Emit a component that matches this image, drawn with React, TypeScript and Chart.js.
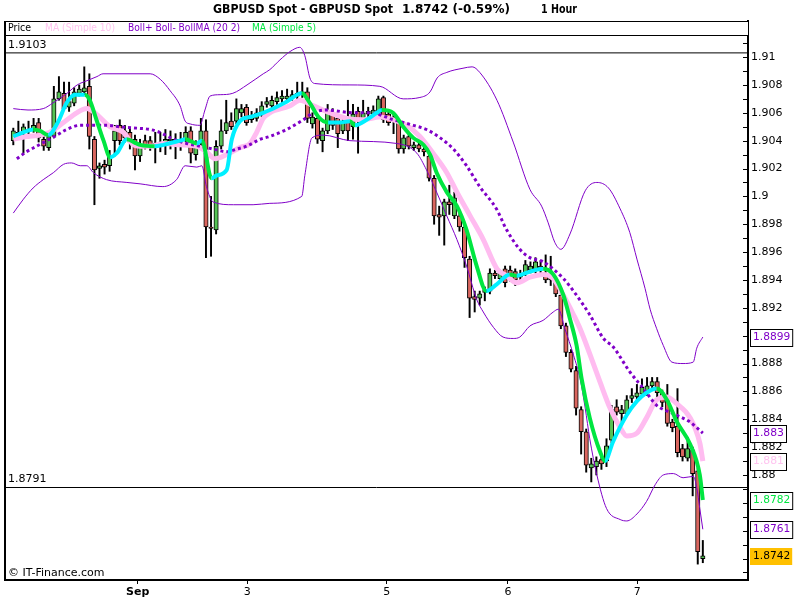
import React, { useEffect, useRef } from 'react';
import { Chart, registerables } from 'chart.js';
Chart.register(...registerables);

// ---------- data ----------
const opens = [1.9040,1.9046,1.9046,1.9048,1.9048,1.9053,1.9041,1.9035,1.9043,1.9070,
1.9074,1.9064,1.9067,1.9074,1.9075,1.9079,1.9041,1.9020,1.9023,1.9022,
1.9040,1.9051,1.9047,1.9046,1.9041,1.9029,1.9040,1.9040,1.9036,1.9038,
1.9039,1.9040,1.9041,1.9039,1.9041,1.9047,1.9030,1.9040,1.9047,1.8978,
1.8976,1.9036,1.9047,1.9054,1.9054,1.9060,1.9064,1.9055,1.9056,1.9059,
1.9066,1.9065,1.9068,1.9070,1.9070,1.9071,1.9072,1.9074,1.9075,1.9052,
1.9056,1.9040,1.9047,1.9060,1.9056,1.9047,1.9055,1.9050,1.9061,1.9056,
1.9059,1.9059,1.9060,1.9071,1.9059,1.9057,1.9053,1.9034,1.9043,1.9035,
1.9037,1.9034,1.9029,1.9013,1.8987,1.8986,1.8996,1.8986,1.8986,1.8978,
1.8955,1.8928,1.8927,1.8931,1.8932,1.8945,1.8941,1.8948,1.8947,1.8946,
1.8942,1.8945,1.8947,1.8947,1.8950,1.8943,1.8942,1.8940,1.8929,1.8907,
1.8888,1.8875,1.8847,1.8831,1.8805,1.8806,1.8811,1.8810,1.8825,1.8849,
1.8844,1.8844,1.8855,1.8856,1.8858,1.8860,1.8864,1.8867,1.8859,1.8855,
1.8838,1.8835,1.8819,1.8812,1.8818,1.8803,1.8740];

const highs = [1.9049,1.9054,1.9052,1.9054,1.9056,1.9056,1.9044,1.9046,1.9079,1.9086,
1.9082,1.9082,1.9078,1.9080,1.9093,1.9088,1.9043,1.9024,1.9026,1.9033,
1.9051,1.9055,1.9051,1.9049,1.9044,1.9041,1.9044,1.9043,1.9046,1.9046,
1.9048,1.9047,1.9045,1.9046,1.9050,1.9050,1.9040,1.9056,1.9055,1.9000,
1.9040,1.9055,1.9069,1.9060,1.9070,1.9066,1.9066,1.9061,1.9063,1.9068,
1.9071,1.9072,1.9075,1.9076,1.9077,1.9076,1.9082,1.9082,1.9078,1.9060,
1.9058,1.9049,1.9066,1.9063,1.9058,1.9057,1.9069,1.9066,1.9064,1.9069,
1.9064,1.9065,1.9072,1.9072,1.9061,1.9059,1.9055,1.9044,1.9045,1.9039,
1.9039,1.9036,1.9031,1.9015,1.8993,1.8998,1.9008,1.9003,1.8988,1.8980,
1.8957,1.8932,1.8932,1.8935,1.8948,1.8947,1.8947,1.8950,1.8950,1.8948,
1.8947,1.8954,1.8953,1.8956,1.8954,1.8958,1.8957,1.8942,1.8931,1.8909,
1.8890,1.8878,1.8849,1.8833,1.8812,1.8813,1.8815,1.8826,1.8850,1.8854,
1.8850,1.8857,1.8862,1.8865,1.8869,1.8870,1.8870,1.8870,1.8861,1.8865,
1.8840,1.8862,1.8822,1.8827,1.8820,1.8805,1.8753];

const lows = [1.9037,1.9041,1.9031,1.9042,1.9046,1.9039,1.9033,1.9033,1.9042,1.9069,
1.9062,1.9061,1.9065,1.9072,1.9073,1.9034,1.8994,1.9013,1.9016,1.9018,
1.9029,1.9037,1.9039,1.9034,1.9019,1.9025,1.9034,1.9033,1.9024,1.9032,
1.9030,1.9034,1.9027,1.9033,1.9039,1.9024,1.9026,1.9036,1.8956,1.8957,
1.8973,1.9034,1.9045,1.9048,1.9052,1.9057,1.9051,1.9053,1.9054,1.9057,
1.9064,1.9063,1.9066,1.9067,1.9068,1.9069,1.9070,1.9071,1.9053,1.9049,
1.9038,1.9032,1.9045,1.9048,1.9035,1.9045,1.9040,1.9041,1.9031,1.9054,
1.9057,1.9057,1.9058,1.9053,1.9051,1.9045,1.9031,1.9031,1.9034,1.9033,
1.9032,1.9029,1.9011,1.8980,1.8972,1.8965,1.8987,1.8984,1.8975,1.8949,
1.8913,1.8917,1.8922,1.8925,1.8930,1.8941,1.8939,1.8935,1.8939,1.8936,
1.8940,1.8943,1.8945,1.8945,1.8944,1.8938,1.8936,1.8928,1.8905,1.8885,
1.8874,1.8843,1.8815,1.8802,1.8795,1.8800,1.8804,1.8806,1.8823,1.8843,
1.8838,1.8842,1.8852,1.8853,1.8856,1.8857,1.8862,1.8856,1.8849,1.8835,
1.8831,1.8813,1.8810,1.8810,1.8785,1.8736,1.8737];

const closes = [1.9047,1.9043,1.9050,1.9047,1.9051,1.9042,1.9036,1.9043,1.9070,1.9075,
1.9063,1.9068,1.9075,1.9077,1.9078,1.9043,1.9019,1.9022,1.9021,1.9029,
1.9047,1.9040,1.9042,1.9039,1.9029,1.9036,1.9036,1.9036,1.9038,1.9039,
1.9041,1.9041,1.9040,1.9041,1.9046,1.9031,1.9036,1.9047,1.8978,1.8977,
1.9036,1.9047,1.9053,1.9050,1.9063,1.9063,1.9053,1.9058,1.9060,1.9065,
1.9068,1.9069,1.9071,1.9072,1.9072,1.9073,1.9074,1.9075,1.9056,1.9057,
1.9041,1.9047,1.9060,1.9051,1.9045,1.9054,1.9047,1.9059,1.9055,1.9060,
1.9061,1.9062,1.9070,1.9055,1.9053,1.9054,1.9034,1.9042,1.9036,1.9037,
1.9034,1.9032,1.9013,1.8986,1.8985,1.8996,1.8994,1.8999,1.8978,1.8956,
1.8927,1.8926,1.8930,1.8933,1.8945,1.8943,1.8945,1.8938,1.8941,1.8940,
1.8944,1.8951,1.8950,1.8953,1.8947,1.8940,1.8940,1.8930,1.8907,1.8888,
1.8876,1.8848,1.8831,1.8807,1.8808,1.8810,1.8808,1.8821,1.8847,1.8845,
1.8847,1.8854,1.8857,1.8859,1.8863,1.8864,1.8867,1.8859,1.8852,1.8837,
1.8834,1.8816,1.8813,1.8819,1.8801,1.8745,1.8742];

// indicator lines, read as [candle index, value]
const upperBand: [number, number][] = [[0,1.9063],[2.9,1.9062],[5.9,1.9063],[7.8,1.9067],[10.6,1.9074],[12.6,1.9080],[14.5,1.9083],[16.5,1.9086],[17.7,1.9088],[27,1.9088],[29,1.9084],[30.9,1.9076],[32.9,1.9065],[33.9,1.9054],[34.9,1.9052],[36.8,1.9051],[37.8,1.9062],[38.8,1.9072],[40.8,1.9073],[43.3,1.9074],[46.1,1.9080],[49.3,1.9088],[50.6,1.9091],[52.6,1.9098],[54.6,1.9104],[56.5,1.9107],[57.5,1.9101],[58.5,1.9085],[59.5,1.9081],[66.4,1.9080],[72.3,1.9079],[76.9,1.9070],[80.2,1.9071],[82.2,1.9075],[83.6,1.9085],[85.5,1.9089],[88.7,1.9092],[90.5,1.9093],[92,1.9089],[95.4,1.9069],[98.6,1.9039],[101.9,1.9005],[104.2,1.8993],[105.5,1.8981],[106.8,1.8967],[108,1.8962],[109.8,1.8973],[112.8,1.9004],[115.1,1.9010],[117.4,1.9006],[119.7,1.8991],[121.6,1.8974],[123,1.8955],[124.6,1.8934],[125.6,1.8919],[126.9,1.8905],[128.2,1.8893],[129.9,1.8881],[132.1,1.8880],[134.1,1.8881],[134.8,1.8891],[136,1.8899]];

const lowerBand: [number, number][] = [[0,1.8988],[2,1.8998],[3.9,1.9006],[5.9,1.9012],[7.9,1.9017],[9.9,1.9023],[11.5,1.9024],[13.2,1.9022],[14.5,1.9022],[15.8,1.9017],[18.4,1.9012],[22.4,1.9010],[25,1.9009],[29.5,1.9007],[32.2,1.9012],[33.9,1.9022],[36.2,1.9021],[37.2,1.9022],[38.1,1.9007],[39.4,1.8996],[43.4,1.8994],[47.3,1.8994],[50.6,1.8995],[56.9,1.9000],[57.5,1.9015],[58.9,1.9042],[61.1,1.9044],[66.4,1.9040],[75.6,1.9038],[79.6,1.9031],[81.5,1.9019],[83.5,1.9003],[85.5,1.8986],[87.5,1.8969],[89.4,1.8950],[91.4,1.8926],[92.7,1.8917],[94.7,1.8906],[96.6,1.8899],[98.6,1.8898],[99.9,1.8899],[101.9,1.8907],[104.5,1.8911],[106.5,1.8917],[107.5,1.8919],[108.8,1.8905],[110.5,1.8886],[111.8,1.8869],[112.8,1.8848],[113.7,1.8826],[115.1,1.8800],[117,1.8776],[119.7,1.8768],[121,1.8767],[123,1.8772],[124.9,1.8781],[126.6,1.8793],[128.2,1.8800],[130.2,1.8801],[132.1,1.8798],[134.1,1.8799],[134.8,1.8791],[135.4,1.8776],[136,1.8761]];

const bollMA: [number, number][] = [[0.7,1.9027],[2.6,1.9032],[4.6,1.9036],[6.6,1.9040],[8.6,1.9044],[10.5,1.9048],[13.2,1.9051],[15.8,1.9051],[18.4,1.9051],[21,1.9050],[24.3,1.9049],[27,1.9048],[28.9,1.9046],[31.6,1.9041],[34.2,1.9038],[36.8,1.9036],[39.4,1.9034],[42.1,1.9032],[44.1,1.9034],[46,1.9036],[48.7,1.9041],[50.6,1.9043],[53.9,1.9048],[57.2,1.9055],[59.2,1.9060],[61.8,1.9062],[67.1,1.9060],[70.4,1.9060],[75,1.9055],[78.9,1.9051],[81.5,1.9048],[84.2,1.9042],[86.8,1.9034],[89.4,1.9022],[92,1.9007],[95.3,1.8991],[97.3,1.8976],[99.9,1.8962],[101.9,1.8956],[104.5,1.8953],[108.5,1.8941],[111.1,1.8929],[113.7,1.8915],[116.4,1.8898],[118.3,1.8892],[121.6,1.8874],[124.3,1.8862],[126.9,1.8850],[130.2,1.8844],[133.5,1.8838],[136,1.8830]];

const ma10: [number, number][] = [[0,1.9041],[2.6,1.9043],[5.3,1.9044],[7.2,1.9046],[9.9,1.9053],[12.5,1.9060],[14.5,1.9063],[16.4,1.9059],[19.1,1.9050],[21.7,1.9046],[23.7,1.9037],[25,1.9036],[27,1.9036],[29.6,1.9038],[32.9,1.9037],[36.2,1.9036],[38.1,1.9032],[39.8,1.9027],[42.1,1.9030],[44.7,1.9035],[46.7,1.9038],[48,1.9046],[49.3,1.9056],[50.6,1.9060],[54.6,1.9065],[56.5,1.9069],[59.2,1.9065],[62.5,1.9060],[65.8,1.9056],[69,1.9055],[72.3,1.9057],[74.9,1.9055],[77.6,1.9051],[80.2,1.9043],[82.8,1.9031],[85.5,1.9017],[87.5,1.9003],[90.1,1.8986],[92.7,1.8969],[95.4,1.8948],[97.3,1.8943],[99.3,1.8938],[101.9,1.8942],[104.5,1.8944],[106.5,1.8941],[108.5,1.8929],[110.5,1.8915],[111.8,1.8905],[113.7,1.8887],[115.7,1.8867],[117.7,1.8848],[119.7,1.8834],[121,1.8828],[123,1.8830],[124.9,1.8841],[126.9,1.8854],[128.9,1.8856],[130.9,1.8851],[133.5,1.8841],[135.4,1.8823],[136,1.8810]];

const ma5: [number, number][] = [[0,1.9043],[2,1.9046],[3.9,1.9048],[5.3,1.9047],[6.9,1.9044],[8.9,1.9054],[10.5,1.9067],[12.2,1.9073],[14.1,1.9073],[15.1,1.9069],[16.4,1.9055],[17.8,1.9040],[19.1,1.9028],[20.4,1.9031],[22.4,1.9041],[24.3,1.9038],[25,1.9037],[27.9,1.9036],[29.6,1.9037],[32.9,1.9040],[33.9,1.9041],[36.2,1.9038],[37.2,1.9040],[39.1,1.9013],[40.1,1.9015],[42.1,1.9019],[43.1,1.9041],[44.7,1.9054],[46.7,1.9057],[49.3,1.9060],[50.6,1.9062],[53.9,1.9068],[56.9,1.9074],[58.5,1.9067],[60.2,1.9057],[62.1,1.9053],[64.4,1.9053],[66.4,1.9054],[67.4,1.9051],[69.7,1.9055],[71.7,1.9060],[72.7,1.9062],[74.9,1.9060],[76.9,1.9050],[78.9,1.9042],[80.9,1.9037],[82.2,1.9030],[83.5,1.9017],[85.5,1.9003],[87.5,1.8993],[89.4,1.8976],[91.4,1.8950],[93.3,1.8932],[95.4,1.8937],[97.9,1.8944],[99.3,1.8943],[101.9,1.8946],[104.5,1.8948],[106.5,1.8944],[108.5,1.8929],[109.8,1.8912],[111.1,1.8893],[112.1,1.8869],[113.7,1.8841],[115.7,1.8817],[116.7,1.8810],[118.3,1.8824],[121,1.8843],[123,1.8853],[124.9,1.8859],[126.9,1.8862],[128.9,1.8854],[130.9,1.8838],[133.5,1.8822],[135.4,1.8800],[136,1.8782]];

const levelValues = [1.9103, 1.8791];
const xTickPos = [24.54, 46.15, 73.65, 97.57, 123.08];
const xTickLabels = ['Sep', '3', '5', '6', '7'];
const titleParts = ['GBPUSD Spot - GBPUSD Spot', '1.8742 (-0.59%)', '1 Hour'];
const legendItems = ['Price', 'MA (Simple 10)', 'Boll+ Boll- BollMA (20 2)', 'MA (Simple 5)'];
const copyright = '\u00A9 IT-Finance.com';

// ---------- styles ----------
const X_MIN = -1.637, X_MAX = 144.91;
const Y_MIN = 1.87246, Y_MAX = 1.91259;
const FONT = '"DejaVu Sans", Verdana, sans-serif';
const PURPLE = '#8000C8';
const PINK = '#FFBCF0';
const PINK_TXT = '#FFC4F0';
const MA5_DOWN = '#00E640';
const MA5_UP = '#00F0FF';
const UP_BODY = '#55C255';
const DOWN_BODY = '#D9665F';
const ORANGE = '#FFC000';

const overlayPlugin = {
  id: 'overlay',
  afterDraw(chart: any) {
    const { ctx, chartArea: ca, scales } = chart;
    const ys = scales.y;
    const w = ca.right - ca.left;
    ctx.save();
    // header row
    ctx.fillStyle = '#fff';
    ctx.fillRect(ca.left, ca.top, w, 14);
    ctx.fillStyle = '#000';
    ctx.fillRect(ca.left, ca.top, w, 1);
    ctx.fillRect(ca.left, ca.top + 14, w, 1);
    ctx.fillRect(ca.left - 1, ca.top, 2, ca.bottom - ca.top);

    // title
    ctx.textBaseline = 'middle';
    ctx.textAlign = 'left';
    ctx.font = 'bold 12px ' + FONT;
    ctx.fillStyle = '#000';
    const tx = [213, 402, 541];
    const tw = [180, 117, 36];
    titleParts.forEach((t, i) => ctx.fillText(t, tx[i], 10, tw[i]));

    // legend row
    ctx.font = '11px ' + FONT;
    const lx = [8, 45, 128, 252];
    const lw = [23, 70, 112, 64];
    const lc = ['#000', PINK_TXT, PURPLE, MA5_DOWN];
    legendItems.forEach((t, i) => {
      ctx.fillStyle = lc[i];
      ctx.fillText(t, lx[i], ca.top + 7.5, lw[i]);
    });

    // level labels
    ctx.fillStyle = '#000';
    levelValues.forEach((v) => {
      const py = ys.getPixelForValue(v);
      ctx.fillText(v.toFixed(4), 8, py - 8, 40);
    });

    ctx.fillText(copyright, 8, 573, 98);

    // inner tick marks on the price axis
    ctx.strokeStyle = '#000';
    ctx.lineWidth = 1;
    for (const t of ys.ticks) {
      if (t.value > 1.9115) continue;
      const py = Math.round(ys.getPixelForValue(t.value)) + 0.5;
      ctx.beginPath();
      ctx.moveTo(ca.right - 5, py);
      ctx.lineTo(ca.right, py);
      ctx.stroke();
    }

    // last value boxes
    const boxes = [
      { v: upperBand[upperBand.length - 1][1], c: PURPLE, f: '#fff' },
      { v: bollMA[bollMA.length - 1][1], c: PURPLE, f: '#fff' },
      { v: ma10[ma10.length - 1][1], c: PINK_TXT, f: '#fff' },
      { v: ma5[ma5.length - 1][1], c: MA5_DOWN, f: '#fff' },
      { v: lowerBand[lowerBand.length - 1][1], c: PURPLE, f: '#fff' },
      { v: closes[closes.length - 1], c: '#000', f: ORANGE },
    ];
    ctx.font = '11px ' + FONT;
    boxes.forEach((b) => {
      const py = Math.round(ys.getPixelForValue(b.v));
      const text = String(parseFloat(b.v.toFixed(4)));
      const tw2 = Math.min(ctx.measureText(text).width, text.length * 6.2);
      const bx = ca.right + 2;
      const bw = tw2 + 5;
      const top = py - 8;
      ctx.fillStyle = b.f;
      ctx.fillRect(bx, top, bw, 17);
      if (b.f === '#fff') {
        ctx.strokeStyle = '#000';
        ctx.strokeRect(bx + 0.5, top + 0.5, bw, 17);
      }
      ctx.fillStyle = b.c;
      ctx.fillText(text, bx + 3, py + 0.5, tw2);
    });
    ctx.restore();
  },
};

export default function App() {
  const ref = useRef<HTMLCanvasElement>(null);
  useEffect(() => {
    const toXY = (arr: [number, number][]) => arr.map(([x, y]) => ({ x, y }));
    const bodyColors = closes.map((c, i) => (c >= opens[i] ? UP_BODY : DOWN_BODY));
    const levelDs = levelValues.map((v) => ({
      type: 'line' as const,
      data: [{ x: X_MIN, y: v }, { x: X_MAX, y: v }],
      borderColor: '#000',
      borderWidth: 1,
      pointRadius: 0,
      order: 20,
    }));
    const chart = new Chart(ref.current as HTMLCanvasElement, {
      type: 'bar',
      data: {
        datasets: [
          ...levelDs,
          {
            type: 'bar',
            data: lows.map((l, i) => ({ x: i, y: [l, highs[i]] })),
            backgroundColor: '#000',
            borderWidth: 0,
            barThickness: 1.3,
            grouped: false,
            order: 12,
          },
          {
            type: 'bar',
            data: opens.map((o, i) => ({ x: i, y: [o, closes[i]] })),
            backgroundColor: bodyColors,
            borderColor: '#000',
            borderWidth: 1,
            borderSkipped: false,
            barThickness: 4.4,
            minBarLength: 1,
            grouped: false,
            order: 11,
          },
          {
            type: 'line',
            data: toXY(ma10),
            borderColor: PINK,
            borderWidth: 5,
            pointRadius: 0,
            cubicInterpolationMode: 'monotone',
            order: 6,
          },
          {
            type: 'line',
            data: toXY(upperBand),
            borderColor: PURPLE,
            borderWidth: 1,
            pointRadius: 0,
            cubicInterpolationMode: 'monotone',
            order: 5,
          },
          {
            type: 'line',
            data: toXY(lowerBand),
            borderColor: PURPLE,
            borderWidth: 1,
            pointRadius: 0,
            cubicInterpolationMode: 'monotone',
            order: 5,
          },
          {
            type: 'line',
            data: toXY(bollMA),
            borderColor: PURPLE,
            borderWidth: 3,
            borderDash: [3, 3],
            pointRadius: 0,
            cubicInterpolationMode: 'monotone',
            order: 4,
          },
          {
            type: 'line',
            data: toXY(ma5),
            borderColor: MA5_UP,
            borderWidth: 4,
            pointRadius: 0,
            cubicInterpolationMode: 'monotone',
            segment: {
              borderColor: (c: any) => (c.p1.parsed.y < c.p0.parsed.y ? MA5_DOWN : MA5_UP),
            },
            order: 1,
          },
        ] as any,
      },
      options: {
        responsive: false,
        maintainAspectRatio: false,
        animation: false,
        devicePixelRatio: 1,
        events: [],
        layout: { padding: { left: 5, top: 21, right: 0, bottom: 0 } },
        plugins: { legend: { display: false }, tooltip: { enabled: false }, title: { display: false } },
        scales: {
          x: {
            type: 'linear',
            min: X_MIN,
            max: X_MAX,
            offset: false,
            grid: { display: true, drawOnChartArea: false, drawTicks: true, tickLength: 4, color: '#000', tickColor: '#000', offset: false },
            border: { display: true, color: '#000', width: 2 },
            ticks: {
              autoSkip: false,
              maxRotation: 0,
              padding: 2,
              color: '#000',
              font: (c: any) => ({ family: FONT, size: 11, weight: c.index === 0 ? 'bold' : 'normal' }),
              callback: (_v: any, i: number) => xTickLabels[i] ?? '',
            },
            afterBuildTicks: (s: any) => {
              s.ticks = xTickPos.map((v) => ({ value: v }));
            },
            afterFit: (s: any) => {
              s.height = 20;
            },
          },
          y: {
            type: 'linear',
            position: 'right',
            min: Y_MIN,
            max: Y_MAX,
            grid: { display: true, drawOnChartArea: false, drawTicks: false },
            border: { display: true, color: '#000', width: 2 },
            ticks: {
              stepSize: 0.001,
              maxTicksLimit: 100,
              autoSkip: false,
              includeBounds: false,
              padding: 3,
              color: '#000',
              font: { family: FONT, size: 11 },
              callback: (v: any) => {
                const n = Number(v);
                const k = Math.round(n * 1000);
                if (Math.abs(n * 1000 - k) > 1e-4 || k % 2 !== 0 || n > 1.9105) return '';
                return String(k / 1000);
              },
            },
            afterFit: (s: any) => {
              s.width = 52;
            },
          },
        } as any,
      },
      plugins: [overlayPlugin],
    });
    return () => chart.destroy();
  }, []);
  return (
    <div style={{ position: 'absolute', left: 0, top: 0, width: 800, height: 600, background: '#fff' }}>
      <canvas ref={ref} width={800} height={600} style={{ display: 'block', width: 800, height: 600 }} />
    </div>
  );
}
